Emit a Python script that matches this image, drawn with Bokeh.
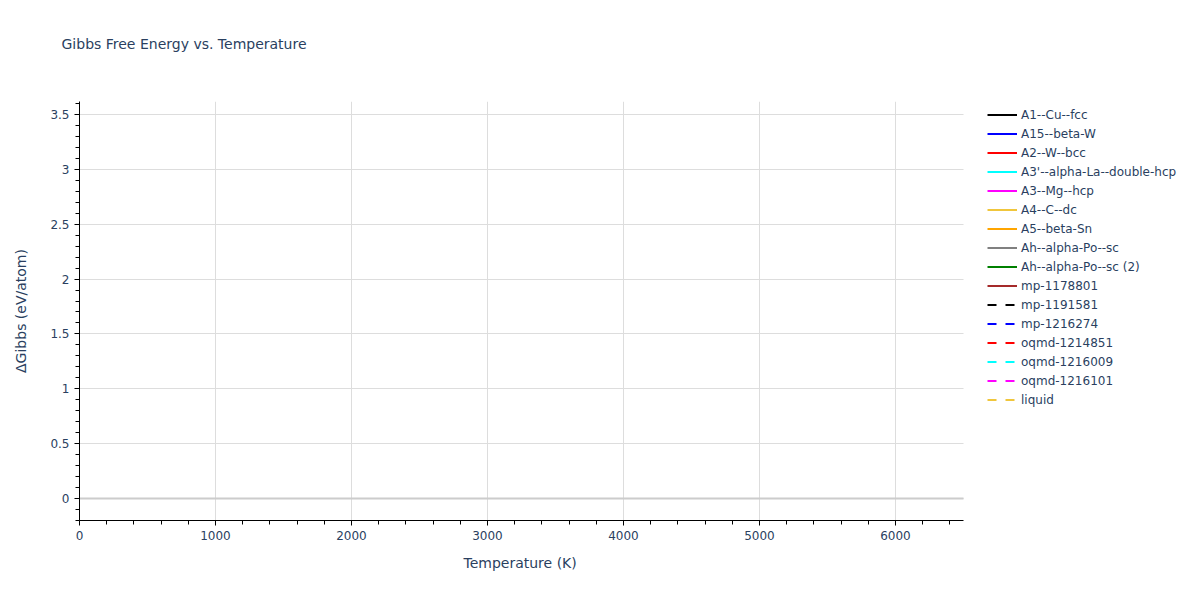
from bokeh.embed import file_html
from bokeh.resources import INLINE
from bokeh.plotting import figure
from bokeh.models import (Legend, LegendItem, Grid, FixedTicker, SingleIntervalTicker,
                          CustomJSTickFormatter, Range1d, Title)

nan = float("nan")

# series shown in the legend; none of them has a visible point in the reference
series_names = ["A1--Cu--fcc", "A15--beta-W", "A2--W--bcc",
                "A3'--alpha-La--double-hcp", "A3--Mg--hcp", "A4--C--dc",
                "A5--beta-Sn", "Ah--alpha-Po--sc", "Ah--alpha-Po--sc (2)",
                "mp-1178801", "mp-1191581", "mp-1216274", "oqmd-1214851",
                "oqmd-1216009", "oqmd-1216101", "liquid"]
temperature = [0]
delta_gibbs = {name: [nan] for name in series_names}

colors = ["black", "blue", "red", "cyan", "magenta", "#f0c63c", "orange",
          "gray", "green", "brown", "black", "blue", "red", "cyan",
          "magenta", "#f0c63c"]
dashed = [False] * 10 + [True] * 6

x_limits = (0, 6500)
font = "DejaVu Sans"
txt = "#2a3f5f"

# the frame runs to the right edge so the legend can sit beside the axes
p = figure(width=1184, height=584, output_backend="svg", toolbar_location=None,
           x_range=Range1d(0, 8125), y_range=Range1d(-0.2, 3.618),
           title="Gibbs Free Energy vs. Temperature",
           min_border_left=79, min_border_right=0,
           min_border_top=100, min_border_bottom=64)
p.outline_line_color = None

p.title.text_font = font
p.title.text_font_size = "14px"
p.title.text_font_style = "normal"
p.title.text_color = txt
p.title.offset = -18
p.title.standoff = 66

# empty spacer between the frame and the title
p.add_layout(Title(text=" ", text_font_size="1px", standoff=14), "above")

p.xaxis.ticker = SingleIntervalTicker(interval=1000, num_minor_ticks=5)
p.yaxis.ticker = SingleIntervalTicker(interval=0.5, num_minor_ticks=5)
p.yaxis.formatter = CustomJSTickFormatter(code="return String(Math.round(tick*10)/10);")
p.xaxis.bounds = x_limits
p.yaxis.axis_label = "\u0394Gibbs (eV/atom)"
for ax in (p.xaxis, p.yaxis):
    ax.axis_line_color = "black"
    ax.major_tick_line_color = "black"
    ax.minor_tick_line_color = "black"
    ax.major_tick_out = 5
    ax.major_tick_in = 0
    ax.minor_tick_out = 4
    ax.minor_tick_in = 0
    ax.major_label_text_font = font
    ax.major_label_text_font_size = "12px"
    ax.major_label_text_color = txt
    ax.axis_label_text_font = font
    ax.axis_label_text_font_size = "14px"
    ax.axis_label_text_font_style = "normal"
    ax.axis_label_text_color = txt
p.yaxis.axis_label_standoff = 18

# x axis title, centred under the bounded axis rather than the whole frame
xlabel = Title(text="Temperature (K)", align="left", offset=384, standoff=20,
               text_font=font, text_font_size="14px", text_font_style="normal",
               text_color=txt)
p.add_layout(xlabel, "below")

p.xgrid.bounds = x_limits
p.ygrid.cross_bounds = x_limits
p.grid.grid_line_color = "#dddddd"
p.grid.grid_line_width = 1
p.add_layout(Grid(dimension=1, ticker=FixedTicker(ticks=[0]), cross_bounds=x_limits,
                  grid_line_color="#cccccc", grid_line_width=2))

items = []
for name, color, dash in zip(series_names, colors, dashed):
    r = p.line(temperature, delta_gibbs[name], line_color=color, line_width=2,
               line_dash="9 9" if dash else "solid")
    items.append(LegendItem(label=name, renderers=[r]))

legend = Legend(items=items, location=(903, 108), padding=5, margin=0,
                spacing=4, glyph_width=30, glyph_height=15, label_height=15,
                label_standoff=4, label_text_font=font, label_text_font_size="12px",
                label_text_color=txt, border_line_alpha=0, background_fill_alpha=0)
p.add_layout(legend)

open("out.html", "w").write(file_html(p, INLINE))
